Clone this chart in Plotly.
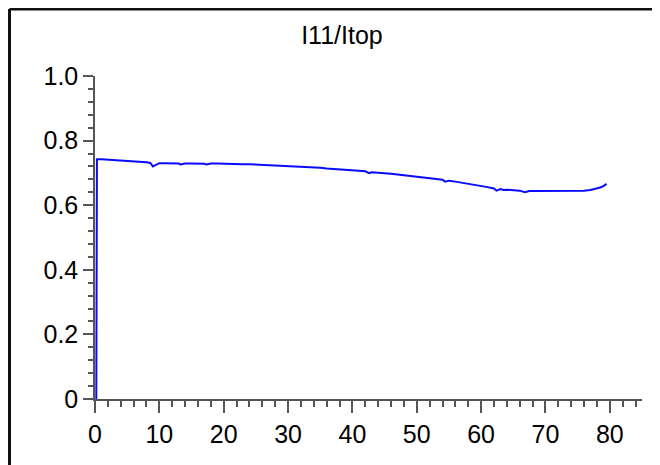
import plotly.graph_objects as go

# I11/Itop ratio vs position
x_vals = [0.2, 0.3, 1, 2, 3, 4, 5, 6, 7, 8, 8.6, 9, 9.4, 10, 11, 12, 13, 13.3, 14,
          15, 16, 17, 17.3, 18, 19, 20, 21, 22, 23, 24, 25, 26, 27, 28, 29, 30,
          31, 32, 33, 34, 35, 36, 37, 38, 39, 40, 41, 42, 42.6, 43, 44, 45, 46,
          47, 48, 49, 50, 51, 52, 53, 54, 54.4, 55, 56, 57, 58, 59, 60, 61, 62,
          62.4, 63, 63.5, 64, 65, 66, 66.8, 67.5, 68, 69, 70, 71, 72, 73, 74, 75,
          76, 77, 77.5, 78, 78.5, 79, 79.5]
y_vals = [0.0, 0.742, 0.742, 0.741, 0.740, 0.739, 0.738, 0.736, 0.735, 0.733, 0.731,
          0.720, 0.724, 0.730, 0.730, 0.730, 0.729, 0.726, 0.729, 0.729, 0.729,
          0.728, 0.726, 0.729, 0.729, 0.728, 0.728, 0.728, 0.727, 0.727, 0.726,
          0.726, 0.725, 0.725, 0.724, 0.723, 0.722, 0.721, 0.720, 0.718, 0.716,
          0.714, 0.713, 0.712, 0.710, 0.709, 0.707, 0.705, 0.699, 0.702, 0.701,
          0.699, 0.697, 0.695, 0.693, 0.691, 0.689, 0.687, 0.684, 0.682, 0.679,
          0.673, 0.676, 0.673, 0.670, 0.667, 0.664, 0.660, 0.656, 0.652, 0.645,
          0.650, 0.647, 0.648, 0.646, 0.645, 0.640, 0.644, 0.644, 0.644, 0.644,
          0.644, 0.644, 0.644, 0.644, 0.645, 0.645, 0.647, 0.649, 0.652, 0.655,
          0.659, 0.666]

y_ticks = [0, 0.2, 0.4, 0.6, 0.8, 1.0]
y_tick_text = ["0", "0.2", "0.4", "0.6", "0.8", "1.0"]
x_ticks = [0, 10, 20, 30, 40, 50, 60, 70, 80]

axis_grey = "#555555"
font = dict(family="Liberation Sans, Arial, sans-serif", size=25, color="black")

fig = go.Figure()
fig.add_trace(go.Scatter(x=x_vals, y=y_vals, mode="lines",
                         line=dict(color="#0a0aff", width=2)))

fig.update_xaxes(range=[0, 85], showline=True, linecolor=axis_grey, linewidth=1.5,
                 showgrid=False, zeroline=False, tickmode="array", tickvals=x_ticks,
                 ticks="outside", ticklen=12, tickcolor=axis_grey, tickwidth=1.5,
                 minor=dict(dtick=2, ticks="outside", ticklen=6, tickcolor=axis_grey,
                            tickwidth=1.5, showgrid=False),
                 tickfont=font)
fig.update_yaxes(range=[0, 1.0], showline=True, linecolor=axis_grey, linewidth=1.5,
                 showgrid=False, zeroline=False, tickmode="array", tickvals=y_ticks,
                 ticktext=y_tick_text, ticks="outside", ticklen=10,
                 tickcolor=axis_grey, tickwidth=1.5,
                 minor=dict(dtick=0.04, ticks="outside", ticklen=5,
                            tickcolor=axis_grey, tickwidth=1.5, showgrid=False),
                 tickfont=font)

# outer frame (only top and left edges fall inside the picture)
frame_x = -0.1563
frame_y = 1.2074
fig.add_shape(type="line", xref="paper", yref="paper", x0=frame_x, x1=frame_x,
              y0=-0.4, y1=frame_y, line=dict(color="#111111", width=3))
fig.add_shape(type="line", xref="paper", yref="paper", x0=frame_x, x1=1.2,
              y0=frame_y, y1=frame_y, line=dict(color="#111111", width=3))

fig.update_layout(
    width=660, height=465,
    margin=dict(l=87, r=26, t=68, b=74),
    paper_bgcolor="white", plot_bgcolor="white",
    showlegend=False,
    title=dict(text="I11/Itop", x=0.506, xref="container", y=0.942,
               yref="container", xanchor="center", yanchor="middle",
               font=font),
)

fig.write_html("out.html")
